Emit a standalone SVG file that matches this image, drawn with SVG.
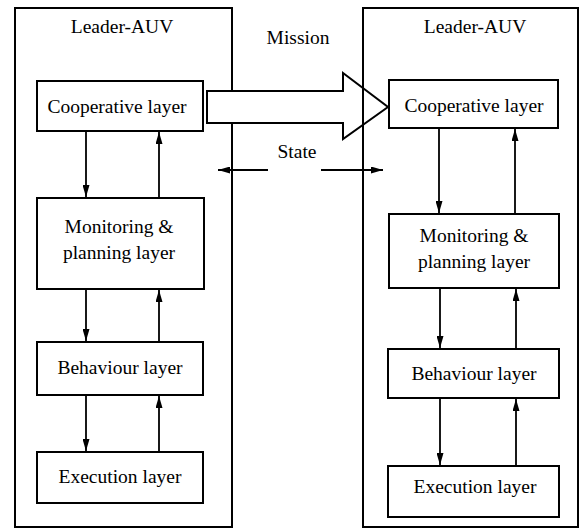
<svg xmlns="http://www.w3.org/2000/svg" width="581" height="529" viewBox="0 0 581 529">
<style>
.box{fill:#fff;stroke:#000;stroke-width:2}
.outer{fill:none;stroke:#000;stroke-width:2}
.con{stroke:#000;stroke-width:1.8;fill:none}
</style>
<defs>
<marker id="ah2" viewBox="0 0 12 7" refX="12" refY="3.5" markerWidth="12" markerHeight="7" markerUnits="userSpaceOnUse" orient="auto">
<path d="M0,0 L12,3.5 L0,7 z" fill="#000"/>
</marker>
</defs>
<rect x="0" y="0" width="581" height="529" fill="#fff"/>
<g font-family="'Liberation Serif', 'Times New Roman', 'DejaVu Serif', serif" font-size="19.5" fill="#000" text-anchor="middle">
<g id="leader-left">
<rect class="outer" x="15" y="8" width="217" height="519"/>
<text x="122" y="33">Leader-AUV</text>
</g>
<g id="mission-arrow">
<polygon points="207,91 343,91 343,73 388,107 343,139 343,123 207,123" fill="#fff" stroke="#000" stroke-width="2" stroke-linejoin="miter"/>
<text x="298" y="44">Mission</text>
</g>
<g id="leader-right">
<rect class="outer" x="363" y="8" width="215" height="519"/>
<text x="475" y="33">Leader-AUV</text>
</g>
<g id="L-coop"><rect class="box" x="37" y="81" width="166" height="50"/><text x="117" y="113">Cooperative layer</text></g>
<g id="L-mon"><rect class="box" x="37" y="198" width="167" height="91"/><text x="119" y="233">Monitoring &amp;</text><text x="119" y="259">planning layer</text></g>
<g id="L-beh"><rect class="box" x="37" y="342" width="166" height="53"/><text x="120" y="374">Behaviour layer</text></g>
<g id="L-exe"><rect class="box" x="37" y="452" width="166" height="51"/><text x="120" y="483">Execution layer</text></g>
<g id="R-coop"><rect class="box" x="389" y="80" width="169" height="48"/><text x="474" y="112">Cooperative layer</text></g>
<g id="R-mon"><rect class="box" x="389" y="214" width="170" height="74"/><text x="474" y="242">Monitoring &amp;</text><text x="474" y="268">planning layer</text></g>
<g id="R-beh"><rect class="box" x="388" y="349" width="171" height="49"/><text x="474" y="380">Behaviour layer</text></g>
<g id="R-exe"><rect class="box" x="388" y="466" width="171" height="51"/><text x="475" y="493">Execution layer</text></g>
<g id="state-label"><text x="297" y="158">State</text></g>
</g>
<g id="connectors">
<line class="con" x1="86" y1="131" x2="86" y2="197" marker-end="url(#ah2)"/>
<line class="con" x1="159" y1="198" x2="159" y2="132" marker-end="url(#ah2)"/>
<line class="con" x1="86" y1="289" x2="86" y2="341" marker-end="url(#ah2)"/>
<line class="con" x1="159" y1="342" x2="159" y2="290" marker-end="url(#ah2)"/>
<line class="con" x1="86" y1="395" x2="86" y2="451" marker-end="url(#ah2)"/>
<line class="con" x1="159" y1="452" x2="159" y2="396" marker-end="url(#ah2)"/>
<line class="con" x1="439" y1="128" x2="439" y2="213" marker-end="url(#ah2)"/>
<line class="con" x1="515" y1="214" x2="515" y2="129" marker-end="url(#ah2)"/>
<line class="con" x1="440" y1="288" x2="440" y2="348" marker-end="url(#ah2)"/>
<line class="con" x1="516" y1="349" x2="516" y2="289" marker-end="url(#ah2)"/>
<line class="con" x1="440" y1="398" x2="440" y2="465" marker-end="url(#ah2)"/>
<line class="con" x1="516" y1="466" x2="516" y2="399" marker-end="url(#ah2)"/>
<line class="con" x1="268" y1="170" x2="218" y2="170" marker-end="url(#ah2)"/>
<line class="con" x1="321" y1="170" x2="383" y2="170" marker-end="url(#ah2)"/>
</g>
</svg>
